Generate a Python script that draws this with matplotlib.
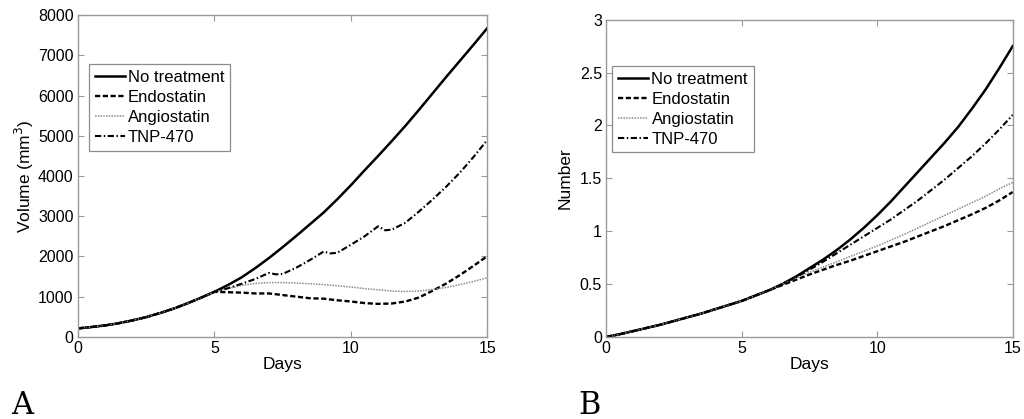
import numpy as np
import matplotlib
matplotlib.use('Agg')
import matplotlib.pyplot as plt

plt.rcParams['font.family'] = ['Liberation Sans', 'DejaVu Sans']

# ---- panel A: tumour volume (mm^3) ----
days_half = [0, 0.5, 1, 1.5, 2, 2.5, 3, 3.5, 4, 4.5, 5, 5.5, 6, 6.5, 7, 7.5,
             8, 8.5, 9, 9.5, 10, 10.5, 11, 11.5, 12, 12.5, 13, 13.5, 14, 14.5, 15]
vol_none = [210, 245, 285, 340, 410, 490, 590, 700, 830, 970, 1120, 1290, 1480, 1710,
            1960, 2230, 2510, 2800, 3090, 3420, 3770, 4140, 4500, 4870, 5250, 5650,
            6060, 6470, 6870, 7270, 7680]
# treatments start on day 5 (before that they follow the untreated curve)
vol_endo = vol_none[:10] + [1120, 1110, 1100, 1080, 1080, 1040, 1000, 960, 950, 910, 880,
                            840, 820, 830, 880, 980, 1150, 1330, 1540, 1770, 2010]
vol_angio = vol_none[:10] + [1120, 1200, 1280, 1330, 1350, 1350, 1340, 1320, 1300, 1270,
                             1240, 1200, 1170, 1140, 1130, 1140, 1180, 1230, 1300, 1380, 1470]
days_tnp = days_half[:10] + [5, 5.5, 6, 6.5, 7, 7.25, 7.5, 8, 8.5, 9, 9.25, 9.5, 10, 10.5,
                             11, 11.25, 11.5, 12, 12.5, 13, 13.5, 14, 14.5, 15]
vol_tnp = vol_none[:10] + [1120, 1210, 1320, 1440, 1590, 1555, 1565, 1720, 1910, 2120, 2075,
                           2090, 2290, 2500, 2750, 2650, 2665, 2840, 3120, 3420, 3740, 4090,
                           4480, 4900]

# ---- panel B: number ----
num_none = [0, 0.025, 0.055, 0.085, 0.115, 0.15, 0.185, 0.22, 0.26, 0.30, 0.34, 0.39, 0.44,
            0.50, 0.57, 0.65, 0.73, 0.82, 0.92, 1.03, 1.15, 1.28, 1.42, 1.56, 1.70, 1.84,
            1.99, 2.16, 2.34, 2.54, 2.75]
num_endo = num_none[:13] + [0.49, 0.54, 0.59, 0.635, 0.68, 0.72, 0.765, 0.81, 0.855, 0.90,
                            0.95, 1.00, 1.05, 1.105, 1.16, 1.22, 1.29, 1.37]
num_angio = num_none[:13] + [0.50, 0.555, 0.61, 0.66, 0.71, 0.76, 0.81, 0.86, 0.915, 0.97,
                             1.03, 1.09, 1.15, 1.21, 1.27, 1.33, 1.40, 1.46]
num_tnp = num_none[:13] + [0.50, 0.565, 0.635, 0.71, 0.79, 0.87, 0.95, 1.03, 1.11, 1.20,
                           1.29, 1.39, 1.49, 1.60, 1.71, 1.83, 1.96, 2.10]

labels = ['No treatment', 'Endostatin', 'Angiostatin', 'TNP-470']

fig = plt.figure(figsize=(10.24, 4.19), dpi=100)
axA = fig.add_axes([0.076, 0.196, 0.400, 0.768])
axB = fig.add_axes([0.592, 0.196, 0.397, 0.757])


def draw(ax, x_none, y_none, y_endo, y_angio, x_tnp, y_tnp):
    ax.plot(x_none, y_none, color='black', lw=1.8, label=labels[0])
    ax.plot(x_none, y_endo, color='black', lw=1.7, dashes=(2.2, 1.1), label=labels[1])
    ax.plot(x_none, y_angio, color='#8c8c8c', lw=1.1, dashes=(1, 0.8), label=labels[2])
    ax.plot(x_tnp, y_tnp, color='black', lw=1.5, dashes=(3, 1.2, 0.7, 1.2), label=labels[3])


draw(axA, days_half, vol_none, vol_endo, vol_angio, days_tnp, vol_tnp)
draw(axB, days_half, num_none, num_endo, num_angio, days_half, num_tnp)

axA.set_xlim(0, 15)
axA.set_ylim(0, 8000)
axA.set_yticks(np.arange(0, 8001, 1000))
axA.set_ylabel('Volume (mm$^3$)', fontsize=12.5)
axA.yaxis.set_label_coords(-0.103, 0.5)
axB.set_xlim(0, 15)
axB.set_ylim(0, 3)
axB.set_yticks([0, 0.5, 1, 1.5, 2, 2.5, 3])
axB.set_yticklabels(['0', '0.5', '1', '1.5', '2', '2.5', '3'])
axB.set_ylabel('Number', fontsize=12.5)
axB.yaxis.set_label_coords(-0.082, 0.5)

for ax in (axA, axB):
    ax.set_xticks([0, 5, 10, 15])
    ax.set_xlabel('Days', fontsize=12.5, labelpad=1)
    ax.tick_params(direction='in', length=4, width=0.8, color='#9a9a9a',
                   labelsize=11.5, top=True, right=True, pad=3)
    for s in ax.spines.values():
        s.set_color('#9a9a9a')
        s.set_linewidth(1.0)

legA = axA.legend(loc='upper left', bbox_to_anchor=(0.027, 0.848), borderaxespad=0,
                  fontsize=12, handlelength=1.8, handletextpad=0.2, labelspacing=0.3,
                  borderpad=0.35, fancybox=False, framealpha=1, edgecolor='#8c8c8c')
legB = axB.legend(loc='upper left', bbox_to_anchor=(0.015, 0.855), borderaxespad=0,
                  fontsize=12, handlelength=1.8, handletextpad=0.2, labelspacing=0.3,
                  borderpad=0.35, fancybox=False, framealpha=1, edgecolor='#8c8c8c')
for leg in (legA, legB):
    leg.get_frame().set_linewidth(0.9)

fig.text(0.022, 0.012, 'A', fontsize=22, family='DejaVu Serif', ha='center', va='baseline')
fig.text(0.576, 0.012, 'B', fontsize=22, family='DejaVu Serif', ha='center', va='baseline')

fig.savefig('out.png', dpi=100)
